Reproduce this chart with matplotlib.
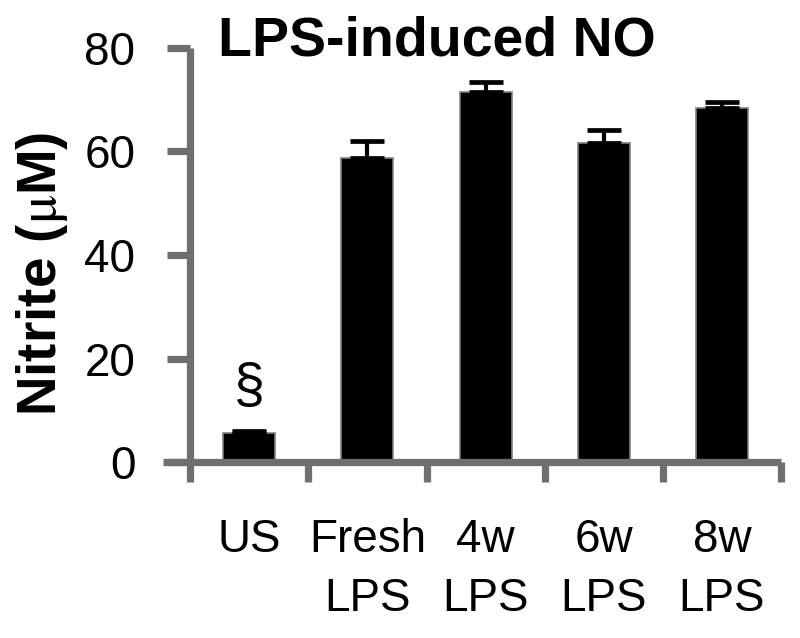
import matplotlib
matplotlib.use("Agg")
import matplotlib.pyplot as plt
import numpy as np

plt.rcParams['font.family'] = ['Liberation Sans', 'DejaVu Sans']
plt.rcParams['mathtext.fontset'] = 'stix'

categories = ["US", "Fresh\nLPS", "4w\nLPS", "6w\nLPS", "8w\nLPS"]
values = [5.6, 58.8, 71.5, 61.6, 68.4]
errors = [0.3, 3.3, 1.9, 2.5, 1.2]
title = "LPS-induced NO"
ylabel = r"Nitrite ($\mathrm{\mu}$M)"
yticks = [0, 20, 40, 60, 80]
marker_text = "§"

axis_gray = "#6f6f6f"

fig = plt.figure(figsize=(8.0, 6.38), dpi=100)
ax = fig.add_axes([163/800, (638-462)/638, (781-163)/800, (462-48)/638])

x = np.arange(len(categories))
ax.bar(x, values, width=0.44, color="black", edgecolor="#808080", linewidth=1.2, zorder=2)
ax.errorbar(x, values, yerr=[np.zeros(len(errors)), errors], fmt="none",
            ecolor="black", elinewidth=3, capsize=12, capthick=3.4, zorder=3)

ax.set_xlim(-0.73, 4.5)
ax.set_ylim(0, 80)

for s in ["top", "right"]:
    ax.spines[s].set_visible(False)
ax.spines["left"].set_position(("data", -0.5))
for s in ["left", "bottom"]:
    ax.spines[s].set_color(axis_gray)
    ax.spines[s].set_linewidth(5.2)
    ax.spines[s].set_zorder(4)
    ax.spines[s].set_capstyle("butt")

ax.set_yticks(yticks)
ax.set_yticklabels([str(t) for t in yticks], fontsize=33)
ax.tick_params(axis="y", direction="out", length=16.5, width=5.2, color=axis_gray, pad=23)

boundaries = np.arange(-0.5, len(categories), 1.0)
ax.set_xticks(boundaries)
ax.set_xticklabels([""] * len(boundaries))
ax.tick_params(axis="x", which="major", direction="out", length=14.5, width=5.2, color=axis_gray)
ax.set_xticks(x, minor=True)
ax.set_xticklabels(categories, minor=True, fontsize=33, linespacing=1.45)
ax.tick_params(axis="x", which="minor", length=0, pad=40)

ax.text(x[0], values[0] + errors[0] + 8.4, marker_text, ha="center", va="center", fontsize=40)

fig.text(437/800, 1 - 55/638, title, ha="center", va="baseline", fontsize=40, fontweight="bold")
fig.text(42/800, 1 - 274/638, ylabel, ha="center", va="center", rotation=90,
         fontsize=39.5, fontweight="bold")

fig.savefig("out.png", dpi=100)
